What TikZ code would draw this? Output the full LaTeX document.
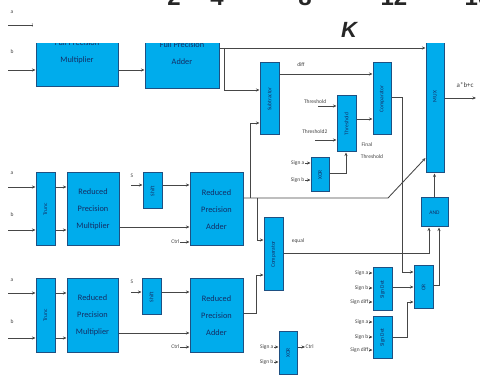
\documentclass[tikz,border=0pt]{standalone}
\usepackage{fontspec}
\setmainfont{Carlito}
\newfontfamily\axisfont{Liberation Sans}
\usetikzlibrary{arrows.meta,fit}
\definecolor{blkfill}{RGB}{0,172,236}
\definecolor{blkdraw}{RGB}{30,80,130}
\definecolor{blktext}{RGB}{20,45,100}
\definecolor{wire}{RGB}{70,70,70}
\tikzset{
  blk/.style={draw=blkdraw, line width=1pt, fill=blkfill, inner sep=0pt},
  htxt/.style={text=blktext, font=\fontsize{8.3}{17}\selectfont, align=center, inner sep=0pt},
  vtxt/.style={text=blktext, font=\fontsize{5.5}{6}\selectfont, align=center, inner sep=0pt, rotate=90},
  lbl/.style={text=black!75, font=\fontsize{5.5}{6}\selectfont, inner sep=0.5pt},
  wa/.style={draw=wire, line width=0.85pt, -{Stealth[length=3.5pt,width=3pt]}},
  axisnum/.style={font=\axisfont\bfseries\fontsize{24}{24}\selectfont, text=black!85, inner sep=0pt, anchor=base},
}
\newcommand\hblk[6]{\node[blk, fit={(#2,#3) (#4,#5)}] (#1) {};\node[htxt] (#1-t) at (#1.center) {#6};}
\newcommand\vblk[6]{\node[blk, fit={(#2,#3) (#4,#5)}] (#1) {};\node[vtxt] (#1-t) at (#1.center) {#6};}
\begin{document}
\begin{tikzpicture}[x=1pt,y=-1pt]
\useasboundingbox (0,0) rectangle (480,377);
\clip (0,0) rectangle (480,377);
% ---------- blocks
\hblk{fpm}{36}{17}{118}{87}{Full Precision\\Multiplier}
\hblk{fpa}{145}{18}{219}{89}{Full Precision\\Adder}
\vblk{mux}{426}{20}{444}{173}{MUX}
\vblk{sub}{260}{63}{279}{135}{Subtractor}
\vblk{cmp}{373}{63}{391}{135}{Comparator}
\vblk{thr}{337}{96}{356}{152}{Threshold}
\vblk{sgn}{311}{158}{329}{192}{XOR}
\vblk{eq}{264}{218}{283}{291}{Comparator}
\hblk{andg}{421}{198}{448}{227}{\fontsize{5.5}{6}\selectfont AND}
\vblk{org}{414}{266}{433}{309}{OR}
\vblk{sda}{373}{268}{392}{311}{Sign Det}
\vblk{sdb}{373}{317}{392}{358}{Sign Det}
\vblk{ctl}{279}{332}{297}{374}{XOR}
\vblk{cva}{36}{173}{55}{246}{Trunc}
\hblk{rma}{67}{173}{119}{246}{Reduced\\Precision\\Multiplier}
\vblk{sha}{143}{173}{162}{209}{Shift}
\hblk{raa}{190}{173}{243}{246}{Reduced\\Precision\\Adder}
\vblk{cvb}{36}{279}{55}{352}{Trunc}
\hblk{rmb}{67}{279}{118}{352}{Reduced\\Precision\\Multiplier}
\vblk{shb}{142}{279}{161}{315}{Shift}
\hblk{rab}{190}{279}{243}{352}{Reduced\\Precision\\Adder}
% ---------- top row
\node[lbl] (la0) at (12,12) {a};
\coordinate (a0) at (8,25);
\draw[wa] (a0) -- (fpm.west |- a0);
\node[lbl] (lb0) at (12,52) {b};
\coordinate (b0) at (8,70);
\draw[wa] (b0) -- (fpm.west |- b0);
\draw[wa] (fpm.east |- 0,70) -- (fpa.west |- 0,70);
\draw[wa] (fpa.east |- 0,48) -- (mux.west |- 0,48);
\coordinate (br1) at (224,48);
\draw[wa] (br1) -- (224,90) -- (sub.west |- 0,90);
\draw[wa] (sub.east |- 0,74) -- (cmp.west |- 0,74);
\node[lbl] (ldiff) at (301,65) {diff};
\node[lbl, anchor=east] (lth1) at (327,102) {Threshold};
\coordinate (t1) at (318,106);
\draw[wa] (t1) -- (thr.west |- t1);
\node[lbl, anchor=east] (lth2) at (328,132) {Threshold2};
\coordinate (t2) at (315,140);
\draw[wa] (t2) -- (thr.west |- t2);
\draw[wa] (thr.east |- 0,119) -- (cmp.west |- 0,119);
\draw[wa] (sgn.east |- 0,173) -- (346,173) -- (thr.south -| 346,0);
\node[lbl] (lfin) at (367,145) {Final};
\node[lbl] (lfth) at (372,157) {Threshold};
\node[lbl, anchor=east] (sga0) at (305,163) {Sign a};
\draw[wa] (sga0.east) -- (sgn.west |- sga0.east);
\node[lbl, anchor=east] (sgb0) at (305,180) {Sign b};
\draw[wa] (sgb0.east) -- (sgn.west |- sgb0.east);
\draw[wa] (cmp.east |- 0,97) -- (402,97) -- (402,272) -- (org.west |- 0,272);
% ---------- mux output
\draw[wa] (mux.east |- 0,98) -- (476,98);
\node[lbl, anchor=west, font=\fontsize{7}{8}\selectfont] (lout) at (456,85) {a*b+c};
\draw[wa] (andg.north) -- (andg.north |- mux.south);
% ---------- row 2
\node[lbl] (la1) at (12,173) {a};
\coordinate (a1) at (8,187);
\draw[wa] (a1) -- (cva.west |- a1);
\node[lbl] (lb1) at (12,215) {b};
\coordinate (b1) at (8,230);
\draw[wa] (b1) -- (cva.west |- b1);
\draw[wa] (cva.east |- 0,187) -- (rma.west |- 0,187);
\draw[wa] (cva.east |- 0,230) -- (rma.west |- 0,230);
\draw[wa] (rma.east |- 0,227) -- (raa.west |- 0,227);
\node[lbl] (ls1) at (132,176) {S};
\coordinate (s1) at (131,185);
\draw[wa] (s1) -- (sha.west |- s1);
\draw[wa] (sha.east |- 0,185) -- (raa.west |- 0,185);
\node[lbl, anchor=east] (lc1) at (180,242) {Ctrl};
\draw[wa] (lc1.east) -- (raa.west |- lc1.east);
\draw[wa] (raa.east |- 0,198) -- (388,198) -- (mux.west |- 0,158);
\coordinate (br2) at (250,198);
\draw[wa] (br2) -- (250,123) -- (sub.west |- 0,123);
\coordinate (br3) at (257,198);
\draw[wa] (br3) -- (257,240) -- (eq.west |- 0,240);
% ---------- row 3
\node[lbl] (la2) at (12,280) {a};
\coordinate (a2) at (8,293);
\draw[wa] (a2) -- (cvb.west |- a2);
\node[lbl] (lb2) at (12,322) {b};
\coordinate (b2) at (8,338);
\draw[wa] (b2) -- (cvb.west |- b2);
\draw[wa] (cvb.east |- 0,293) -- (rmb.west |- 0,293);
\draw[wa] (cvb.east |- 0,338) -- (rmb.west |- 0,338);
\draw[wa] (rmb.east |- 0,333) -- (rab.west |- 0,333);
\node[lbl] (ls2) at (132,282) {S};
\coordinate (s2) at (131,292);
\draw[wa] (s2) -- (shb.west |- s2);
\draw[wa] (shb.east |- 0,292) -- (rab.west |- 0,292);
\node[lbl, anchor=east] (lc2) at (180,347) {Ctrl};
\draw[wa] (lc2.east) -- (rab.west |- lc2.east);
\draw[wa] (rab.east |- 0,313) -- (256,313) -- (256,275) -- (eq.west |- 0,275);
% ---------- equal / and / or
\draw[wa] (eq.east |- 0,253) -- (429,253) -- (andg.south -| 429,0);
\node[lbl] (lequal) at (298,241) {equal};
\draw[wa] (org.east |- 0,285) -- (439,285) -- (andg.south -| 439,0);
% ---------- sign detect blocks
\node[lbl, anchor=east] (s1a) at (369,273) {Sign a};
\draw[wa] (s1a.east) -- (sda.west |- s1a.east);
\node[lbl, anchor=east] (s1b) at (369,288) {Sign b};
\draw[wa] (s1b.east) -- (sda.west |- s1b.east);
\node[lbl, anchor=east] (s1d) at (369,302) {Sign diff};
\draw[wa] (s1d.east) -- (sda.west |- s1d.east);
\draw[wa] (sda.east |- 0,287) -- (org.west |- 0,287);
\node[lbl, anchor=east] (s2a) at (369,322) {Sign a};
\draw[wa] (s2a.east) -- (sdb.west |- s2a.east);
\node[lbl, anchor=east] (s2b) at (369,337) {Sign b};
\draw[wa] (s2b.east) -- (sdb.west |- s2b.east);
\node[lbl, anchor=east] (s2d) at (369,350) {Sign diff};
\draw[wa] (s2d.east) -- (sdb.west |- s2d.east);
\draw[wa] (sdb.east |- 0,337) -- (407,337) -- (407,302) -- (org.west |- 0,302);
% ---------- ctrl block
\node[lbl, anchor=east] (c1a) at (274,347) {Sign a};
\draw[wa] (c1a.east) -- (ctl.west |- c1a.east);
\node[lbl, anchor=east] (c1b) at (274,362) {Sign b};
\draw[wa] (c1b.east) -- (ctl.west |- c1b.east);
\node[lbl, anchor=west] (ctlo) at (305,347) {Ctrl};
\draw[wa] (ctl.east |- ctlo.west) -- (ctlo.west);
% ---------- overlaid chart axis
\fill[white] (33,-2) rectangle (482,43);
\node[axisnum] (n2) at (174,6) {2};
\node[axisnum] (n4) at (217,6) {4};
\node[axisnum] (n8) at (305,6) {8};
\node[axisnum] (n12) at (394,6) {12};
\node[axisnum] (n16) at (478,6) {16};
\node[font=\axisfont\bfseries\itshape\fontsize{22}{22}\selectfont, text=black!85, inner sep=0pt, anchor=base] (kk) at (349,38) {K};
\end{tikzpicture}
\end{document}
